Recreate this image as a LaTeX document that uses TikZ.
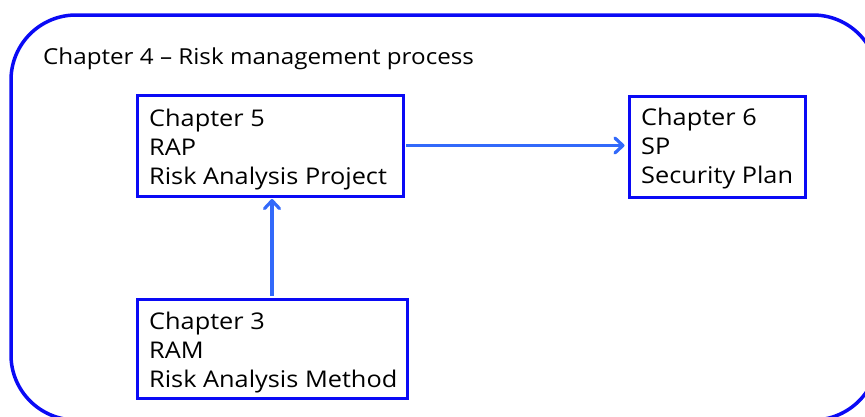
\documentclass[tikz,border=0pt]{standalone}
\usepackage{fontspec}
\setmainfont[FakeStretch=1.1]{Open Sans}
\usetikzlibrary{arrows.meta}
\definecolor{frameblue}{RGB}{10,10,245}
\definecolor{linkblue}{RGB}{50,105,250}
\tikzset{
  chapbox/.style={draw=frameblue, line width=3pt, fill=white,
    rectangle, inner sep=0pt},
  % anchored at the baseline of the last line
  chaptext/.style={anchor=base west, align=left, inner sep=0pt,
    font=\fontsize{23}{29}\selectfont},
  link/.style={draw=linkblue, line width=3.2pt,
    -{Straight Barb[length=8pt,width=15pt,line cap=round,line join=round]}},
}
\begin{document}
\begin{tikzpicture}[x=1pt,y=-1pt]
  \useasboundingbox (0,0) rectangle (865,416);
  % outer process frame, running past the right and bottom edges
  \begin{scope}
    \clip (0,0) rectangle (865,416);
    \draw[draw=frameblue, line width=3.5pt, rounded corners=65pt]
      (11,15) rectangle (878,420);
  \end{scope}
  \node[anchor=base west, inner sep=0pt, font=\fontsize{22}{26}\selectfont]
    (title) at (43,64) {Chapter 4 -- Risk management process};

  % chapter boxes
  \node[chapbox, minimum width=266pt, minimum height=101pt] (rap) at (270,145.5) {};
  \node[chaptext] (raptext) at (149,184) {Chapter 5\\RAP\\Risk Analysis Project};

  \node[chapbox, minimum width=176pt, minimum height=101pt] (sp) at (717,146.5) {};
  \node[chaptext] (sptext) at (641,183) {Chapter 6\\SP\\Security Plan};

  \node[chapbox, minimum width=270pt, minimum height=99pt] (ram) at (272,348.5) {};
  \node[chaptext] (ramtext) at (149,387) {Chapter 3\\RAM\\Risk Analysis Method};

  % connectors
  \draw[link, shorten <=1.5pt, shorten >=3pt] (rap.east) -- (sp.west |- rap.east);
  \draw[link, shorten <=1.5pt, shorten >=1.5pt] (ram.north -| 272,0) -- (rap.south -| 272,0);
\end{tikzpicture}
\end{document}
